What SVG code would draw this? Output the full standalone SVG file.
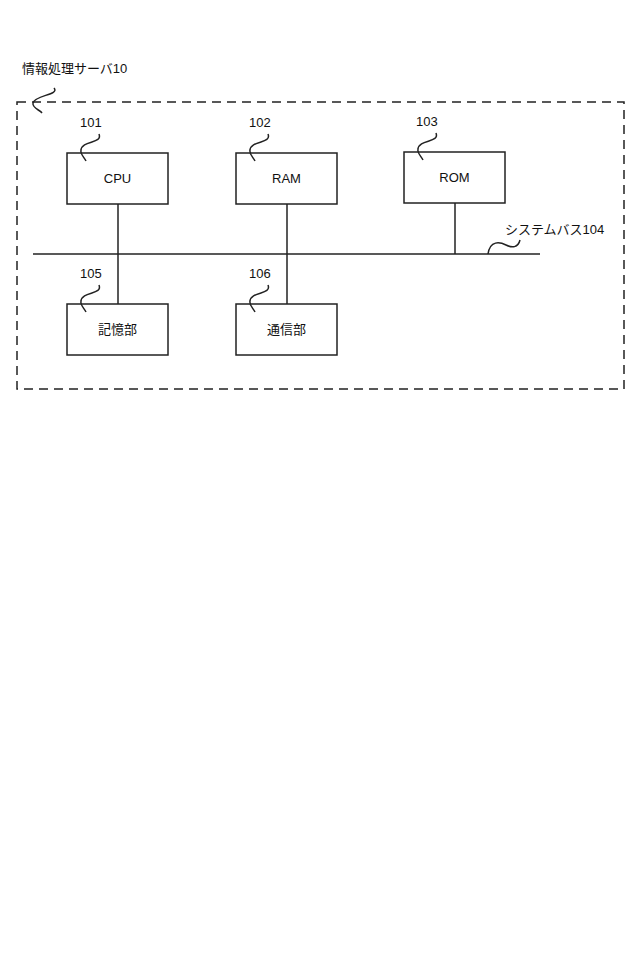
<svg xmlns="http://www.w3.org/2000/svg" width="640" height="965" viewBox="0 0 640 965">
<style>
.b{fill:#fff;stroke:#222;stroke-width:1.5}
.l{fill:none;stroke:#222;stroke-width:1.5}
.t{font-family:"Liberation Sans","Noto Sans CJK JP",sans-serif;font-size:13px;fill:#111}
</style>
<rect width="640" height="965" fill="#fff"/>
<g id="server">
<rect x="17" y="102" width="607" height="287" fill="none" stroke="#222" stroke-width="1.5" stroke-dasharray="9,6"/>
<text class="t" x="22" y="73">情報処理サーバ10</text>
<path class="l" d="M54 88 C60 95,35 95,33 103 C32 108,40 110,42 113"/>
</g>
<g id="connectors">
<line class="l" x1="33" y1="254" x2="540" y2="254"/>
<line class="l" x1="118" y1="204" x2="118" y2="304"/>
<line class="l" x1="287" y1="204" x2="287" y2="304"/>
<line class="l" x1="455" y1="203" x2="455" y2="254"/>
</g>
<g id="cpu"><rect class="b" x="67" y="153" width="101" height="51"/><text class="t" x="117.5" y="183" text-anchor="middle">CPU</text><text class="t" x="80" y="127">101</text><path class="l" d="M99 134 C103 144,82 140,81 150 C80 154,84 157,86 161"/></g>
<g id="ram"><rect class="b" x="236" y="153" width="101" height="51"/><text class="t" x="286.5" y="183" text-anchor="middle">RAM</text><text class="t" x="249" y="127">102</text><path class="l" d="M268 134 C272 144,251 140,250 150 C249 154,253 157,255 161"/></g>
<g id="rom"><rect class="b" x="404" y="152" width="101" height="51"/><text class="t" x="454.5" y="182" text-anchor="middle">ROM</text><text class="t" x="416" y="126">103</text><path class="l" d="M436 133 C440 143,419 139,418 149 C417 153,421 156,423 160"/></g>
<g id="bus"><text class="t" x="505" y="234">システムバス104</text><path class="l" d="M488 254 C490 240,500 242,506 245 C512 248,518 248,520 240"/></g>
<g id="storage"><rect class="b" x="67" y="304" width="101" height="51"/><text class="t" x="117.5" y="334" text-anchor="middle">記憶部</text><text class="t" x="80" y="278">105</text><path class="l" d="M99 285 C103 295,82 291,81 301 C80 305,84 308,86 312"/></g>
<g id="comm"><rect class="b" x="236" y="304" width="101" height="51"/><text class="t" x="286.5" y="334" text-anchor="middle">通信部</text><text class="t" x="249" y="278">106</text><path class="l" d="M268 285 C272 295,251 291,250 301 C249 305,253 308,255 312"/></g>
</svg>
